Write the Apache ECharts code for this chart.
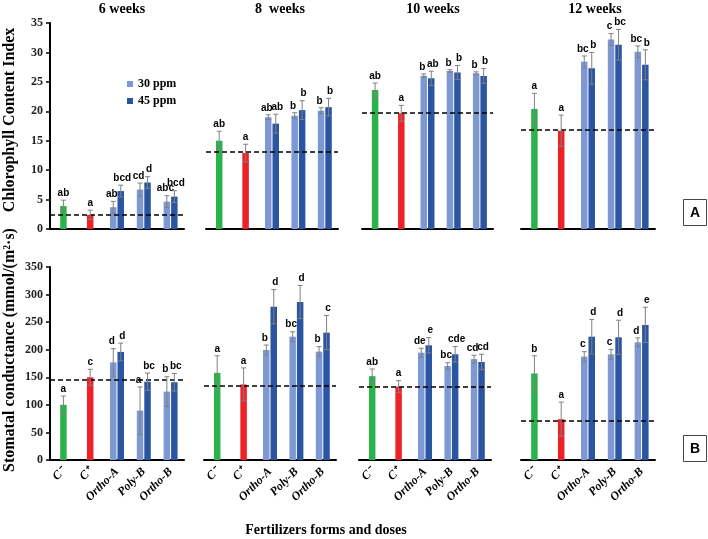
<!DOCTYPE html>
<html><head><meta charset="utf-8">
<script src="https://cdn.jsdelivr.net/npm/echarts@6/dist/echarts.min.js"></script>
<style>html,body{margin:0;padding:0;background:#fff}#c{width:708px;height:539px}</style>
</head><body><div id="c"></div>
<script>
// ---------- DATA ----------
const categories = ['C\u207B', 'C\u207A', 'Ortho-A', 'Poly-B', 'Ortho-B'];
const weeks = ['6 weeks', '8  weeks', '10 weeks', '12 weeks'];
const seriesNames = ['30 ppm', '45 ppm'];

// Chlorophyll Content Index (panel A): per week, [C-, C+]
const ccControl = [[3.9, 2.4], [15.0, 12.9], [23.6, 19.65], [20.4, 16.7]];
const ccControlErr = [[1.0, 0.8], [1.6, 1.5], [1.2, 1.35], [2.65, 2.65]];
const ccControlLetters = [['ab', 'a'], ['ab', 'a'], ['ab', 'a'], ['a', 'a']];
// per week, [Ortho-A, Poly-B, Ortho-B]
const cc30 = [[3.7, 6.7, 4.65], [19.0, 19.25, 20.1], [26.05, 26.85, 26.45], [28.4, 32.2, 30.1]];
const cc30Err = [[1.0, 1.1, 1.0], [0.4, 0.5, 0.5], [0.3, 0.2, 0.25], [1.0, 1.0, 1.0]];
const cc30Letters = [['ab', 'cd', 'abc'], ['ab', 'b', 'b'], ['b', 'b', 'b'], ['bc', 'c', 'bc']];
const cc45 = [[6.45, 7.9, 5.5], [17.9, 20.2, 20.7], [25.6, 26.6, 26.0], [27.3, 31.3, 27.9]];
const cc45Err = [[1.0, 1.0, 1.0], [1.6, 1.6, 1.5], [1.2, 1.2, 1.25], [2.7, 2.6, 2.55]];
const cc45Letters = [['bcd', 'd', 'bcd'], ['ab', 'b', 'b'], ['ab', 'b', 'b'], ['b', 'bc', 'b']];
const ccRef = [2.5, 13.1, 19.7, 16.8];
const ccTicks = [0, 35, 5];

// Stomatal conductance (panel B)
const gsControl = [[100, 150], [158, 137], [152, 133], [157, 74]];
const gsControlErr = [[16, 14.5], [31, 30], [13, 11], [32, 31]];
const gsControlLetters = [['a', 'c'], ['a', 'a'], ['ab', 'a'], ['b', 'a']];
const gs30 = [[177, 89.5, 124], [199.5, 223.6, 196.5], [194.6, 170.5, 183], [187.4, 191.6, 213.5]];
const gs30Err = [[25, 43, 27], [9, 9, 9], [8, 6, 7], [9, 9, 8]];
const gs30Letters = [['d', 'a', 'b'], ['b', 'bc', 'b'], ['de', 'bc', 'cd'], ['c', 'c', 'd']];
const gs45 = [[196, 142, 141], [278, 286.5, 231], [208, 191.7, 177.7], [223.6, 222.5, 245]];
const gs45Err = [[16, 15.7, 16], [31, 30, 31], [14, 14, 14], [31.5, 31, 32]];
const gs45Letters = [['d', 'bc', 'bc'], ['d', 'd', 'c'], ['e', 'cde', 'cd'], ['d', 'd', 'e']];
const gsRef = [146, 135, 133, 71.5];
const gsTicks = [0, 350, 50];

// ---------- STYLE ----------
const SERIF = "'Liberation Serif','Times New Roman',serif";
const SANS = "'Liberation Sans Narrow','Liberation Sans',Arial,sans-serif";
const COL = { neg: '#2bb34b', pos: '#ee2127', c30: '#7d98d3', c45: '#2a55a2', err: '#808080' };
const BW = 6.5;

const layout = {
  top: { top: 23, height: 206, pos: [[50, 134], [206, 132], [362, 131], [521, 134]] },
  bottom: { top: 267, height: 193, pos: [[50, 134], [204, 132], [359, 132], [521, 134]] }
};

const grid = [], xAxis = [], yAxis = [], series = [];

function addPanel(row, w, d) {
  const L = layout[row];
  const gi = grid.length;
  grid.push({ left: L.pos[w][0], width: L.pos[w][1], top: L.top, height: L.height });
  const xa = xAxis.length;
  xAxis.push({
    type: 'category', gridIndex: gi, data: categories,
    axisLine: { lineStyle: { color: '#000', width: 2 } },
    axisTick: { inside: true, length: 5, lineStyle: { color: '#000', width: 1.5 } },
    axisLabel: row === 'bottom' ? {
      interval: 0, rotate: 45, margin: 10, color: '#000',
      fontFamily: SERIF, fontWeight: 'bold', fontStyle: 'italic', fontSize: 12
    } : { show: false }
  });
  xAxis.push({ type: 'category', gridIndex: gi, data: categories, show: false });
  yAxis.push({
    type: 'value', gridIndex: gi, min: d.ticks[0], max: d.ticks[1], interval: d.ticks[2],
    show: w === 0,
    axisLine: { show: true, lineStyle: { color: '#000', width: 2 } },
    axisTick: { show: true, length: 4, lineStyle: { color: '#000', width: 1.5 } },
    axisLabel: { color: '#222', fontFamily: SERIF, fontWeight: 'bold', fontSize: 12, margin: 7 },
    splitLine: { show: false }
  });
  // control bars (centered)
  series.push({
    type: 'bar', xAxisIndex: xa + 1, yAxisIndex: gi, barWidth: BW, z: 2,
    data: [
      { value: d.ctrl[w][0], itemStyle: { color: COL.neg } },
      { value: d.ctrl[w][1], itemStyle: { color: COL.pos } }, '-', '-', '-'
    ]
  });
  series.push({
    type: 'bar', name: seriesNames[0], xAxisIndex: xa, yAxisIndex: gi, barWidth: BW, barGap: '15%', z: 2,
    itemStyle: { color: COL.c30 },
    data: ['-', '-'].concat(d.v30[w]),
    markLine: {
      silent: true, symbol: ['none', 'none'], label: { show: false },
      lineStyle: { color: '#000', type: [5, 3], width: 1.5 },
      data: [{ yAxis: d.ref[w] }]
    }
  });
  series.push({
    type: 'bar', name: seriesNames[1], xAxisIndex: xa, yAxisIndex: gi, barWidth: BW, barGap: '15%', z: 2,
    itemStyle: { color: COL.c45 },
    data: ['-', '-'].concat(d.v45[w])
  });
  // error bars + letters
  const items = [];
  for (let i = 0; i < 2; i++) items.push({ cat: i, v: d.ctrl[w][i], e: d.ctrlErr[w][i], off: 0, t: d.ctrlL[w][i] });
  for (let j = 0; j < 3; j++) {
    items.push({ cat: j + 2, v: d.v30[w][j], e: d.e30[w][j], off: -1, t: d.l30[w][j] });
    items.push({ cat: j + 2, v: d.v45[w][j], e: d.e45[w][j], off: 1, t: d.l45[w][j] });
  }
  series.push({
    type: 'custom', xAxisIndex: xa, yAxisIndex: gi, z: 5, silent: true,
    data: items.map(it => [it.cat, it.v, it.e]),
    renderItem: function (params, api) {
      const it = items[params.dataIndex];
      const c = api.coord([it.cat, it.v]);
      const tp = api.coord([it.cat, it.v + it.e]);
      const bt = api.coord([it.cat, Math.max(0, it.v - it.e)]);
      const x = c[0] + it.off * (BW / 2 + 0.5);
      const ls = { stroke: COL.err, lineWidth: 1 };
      return {
        type: 'group', children: [
          { type: 'line', shape: { x1: x, y1: tp[1], x2: x, y2: bt[1] }, style: ls },
          { type: 'line', shape: { x1: x - 2.5, y1: tp[1], x2: x + 2.5, y2: tp[1] }, style: ls },
          { type: 'line', shape: { x1: x - 2.5, y1: bt[1], x2: x + 2.5, y2: bt[1] }, style: ls },
          { type: 'text', x: x + it.off * 1.5, y: tp[1] - 2, style: {
              text: it.t, align: 'center', verticalAlign: 'bottom', fill: '#000',
              fontFamily: SANS, fontWeight: 'bold', fontSize: 10 } }
        ]
      };
    }
  });
}

const dataA = { ctrl: ccControl, ctrlErr: ccControlErr, ctrlL: ccControlLetters, v30: cc30, e30: cc30Err, l30: cc30Letters,
  v45: cc45, e45: cc45Err, l45: cc45Letters, ref: ccRef, ticks: ccTicks };
const dataB = { ctrl: gsControl, ctrlErr: gsControlErr, ctrlL: gsControlLetters, v30: gs30, e30: gs30Err, l30: gs30Letters,
  v45: gs45, e45: gs45Err, l45: gs45Letters, ref: gsRef, ticks: gsTicks };
for (let w = 0; w < 4; w++) addPanel('top', w, dataA);
for (let w = 0; w < 4; w++) addPanel('bottom', w, dataB);

const titleX = [122, 280, 433, 595];
const graphic = weeks.map((t, i) => ({
  type: 'text', x: titleX[i], y: 9,
  style: { text: t, align: 'center', verticalAlign: 'middle', fill: '#000', fontFamily: SERIF, fontWeight: 'bold', fontSize: 14 }
}));
graphic.push(
  { type: 'text', x: 10, y: 120, rotation: Math.PI / 2,
    style: { text: 'Chlorophyll Content Index', align: 'center', verticalAlign: 'middle', fill: '#000', fontFamily: SERIF, fontWeight: 'bold', fontSize: 16 } },
  { type: 'text', x: 10, y: 350, rotation: Math.PI / 2,
    style: { text: 'Stomatal conductance (mmol/(m\u00B2\u00B7s)', align: 'center', verticalAlign: 'middle', fill: '#000', fontFamily: SERIF, fontWeight: 'bold', fontSize: 16 } },
  { type: 'text', x: 326, y: 530,
    style: { text: 'Fertilizers forms and doses', align: 'center', verticalAlign: 'middle', fill: '#000', fontFamily: SERIF, fontWeight: 'bold', fontSize: 14 } },
  { type: 'rect', shape: { x: 683.5, y: 199.5, width: 23, height: 26 }, style: { fill: '#fff', stroke: '#444', lineWidth: 1 } },
  { type: 'text', x: 695, y: 213, style: { text: 'A', align: 'center', verticalAlign: 'middle', fill: '#000', fontFamily: "'Liberation Sans',Arial,sans-serif", fontWeight: 'bold', fontSize: 14 } },
  { type: 'rect', shape: { x: 683.5, y: 435.5, width: 23, height: 26 }, style: { fill: '#fff', stroke: '#444', lineWidth: 1 } },
  { type: 'text', x: 695, y: 449, style: { text: 'B', align: 'center', verticalAlign: 'middle', fill: '#000', fontFamily: "'Liberation Sans',Arial,sans-serif", fontWeight: 'bold', fontSize: 14 } }
);

const chart = echarts.init(document.getElementById('c'));
chart.setOption({
  animation: false,
  backgroundColor: '#fff',
  grid, xAxis, yAxis, series, graphic,
  legend: {
    data: seriesNames, orient: 'vertical', left: 122, top: 73,
    icon: 'rect', itemWidth: 6, itemHeight: 6, itemGap: 5,
    textStyle: { fontFamily: SERIF, fontWeight: 'bold', fontSize: 12, color: '#000' }
  }
});
</script>
</body></html>
